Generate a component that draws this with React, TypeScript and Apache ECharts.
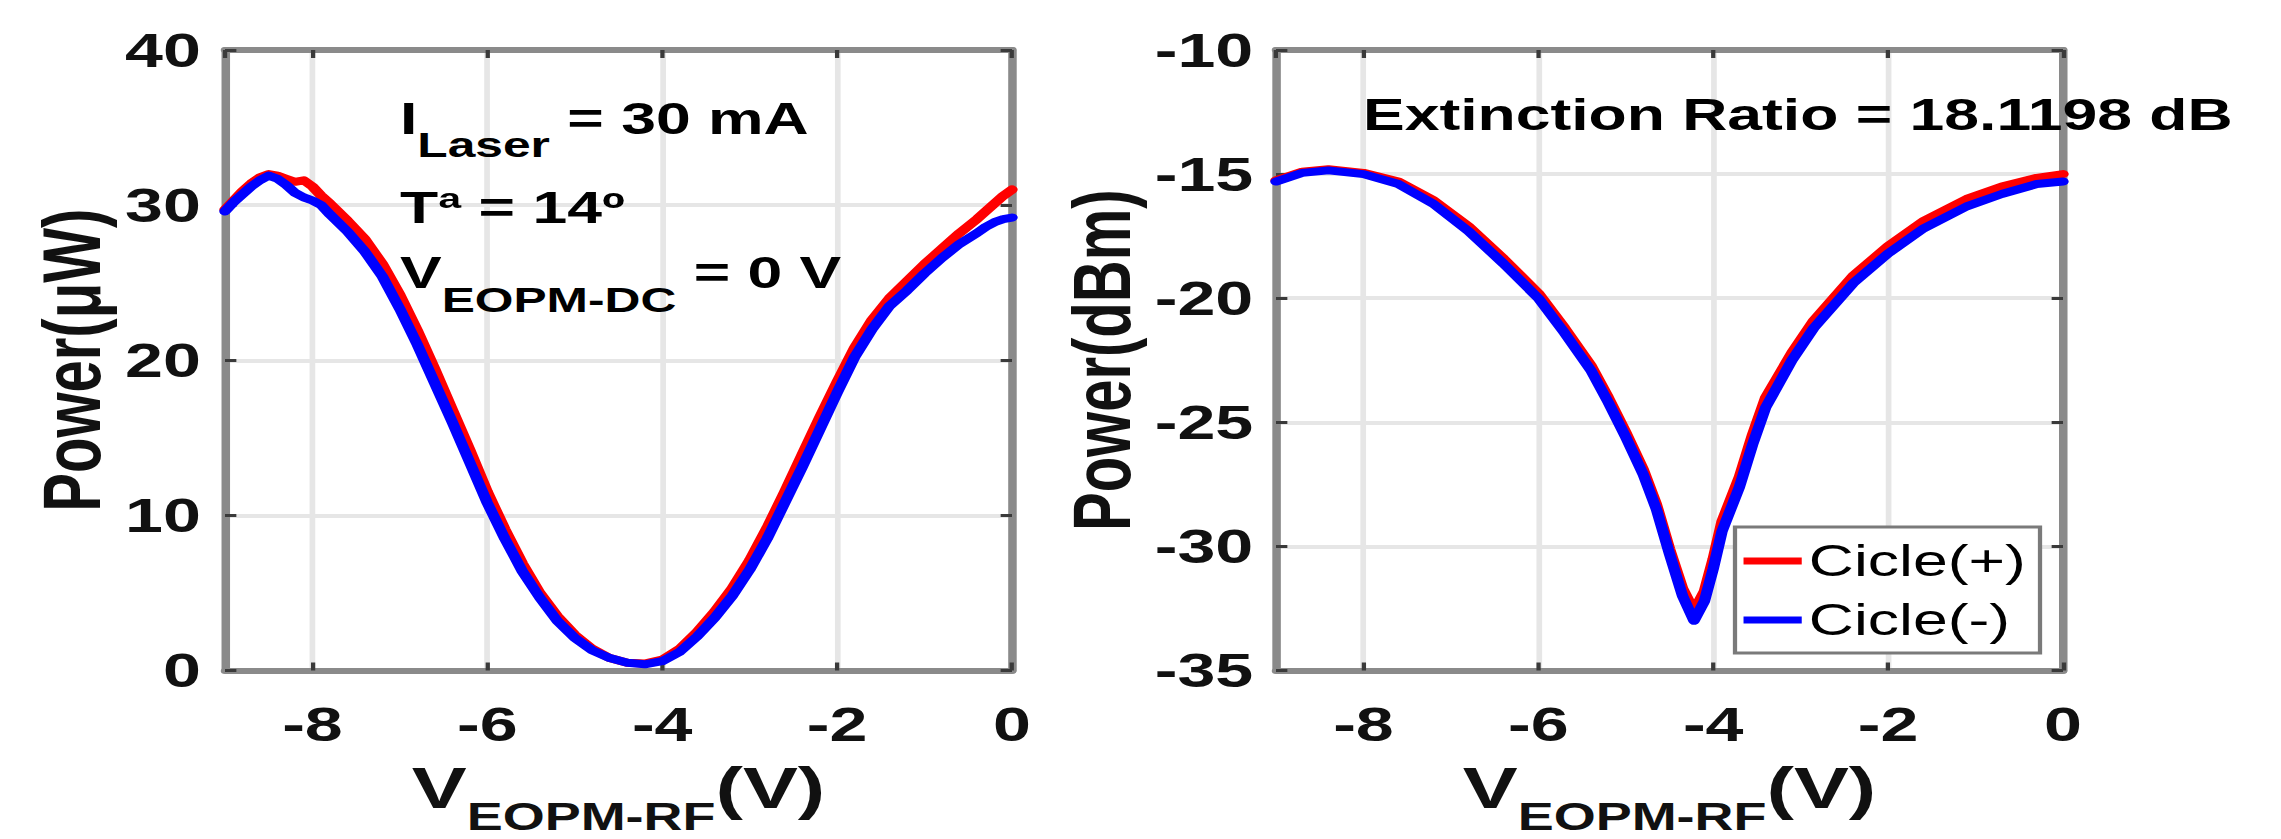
import React, { useEffect, useRef } from "react";
import * as echarts from "echarts";

// ---------- data ----------
const voltsUW = [
  -9, -8.9, -8.8, -8.7, -8.6, -8.5, -8.4, -8.3, -8.2, -8.1, -8.0, -7.9, -7.8, -7.6, -7.4, -7.2,
  -7.0, -6.8, -6.6, -6.4, -6.2, -6.0, -5.8, -5.6, -5.4, -5.2, -5.0, -4.8, -4.6, -4.4, -4.2, -4.0,
  -3.8, -3.6, -3.4, -3.2, -3.0, -2.8, -2.6, -2.4, -2.2, -2.0, -1.8, -1.6, -1.4, -1.2, -1.0, -0.8,
  -0.6, -0.4, -0.3, -0.2, -0.1, 0,
];
const ciclePlusUW = [
  29.7, 30.3, 30.9, 31.4, 31.8, 32.0, 31.9, 31.7, 31.5, 31.6, 31.2, 30.6, 30.1, 29.0, 27.8, 26.2,
  24.2, 21.9, 19.4, 16.8, 14.2, 11.5, 9.1, 6.9, 5.0, 3.5, 2.3, 1.4, 0.8, 0.5, 0.45, 0.7,
  1.4, 2.5, 3.8, 5.3, 7.1, 9.2, 11.5, 13.9, 16.3, 18.6, 20.8, 22.6, 24.0, 25.1, 26.2, 27.2,
  28.2, 29.1, 29.6, 30.1, 30.6, 31.0,
];
const cicleMinusUW = [
  29.6, 30.2, 30.7, 31.2, 31.6, 31.9, 31.7, 31.3, 30.8, 30.5, 30.3, 30.0, 29.4, 28.3, 27.0, 25.4,
  23.3, 21.0, 18.5, 16.0, 13.4, 10.8, 8.5, 6.4, 4.7, 3.2, 2.1, 1.3, 0.8, 0.5, 0.4, 0.6,
  1.2, 2.2, 3.4, 4.8, 6.5, 8.5, 10.8, 13.1, 15.5, 17.9, 20.2, 22.0, 23.5, 24.5, 25.6, 26.6,
  27.5, 28.2, 28.6, 28.9, 29.1, 29.2,
];

const voltsDBM = [
  -9, -8.7, -8.4, -8, -7.6, -7.2, -6.8, -6.4, -6.0, -5.7, -5.4, -5.2, -5.0, -4.8, -4.65, -4.5,
  -4.35, -4.22, -4.1, -4.0, -3.9, -3.7, -3.55, -3.4, -3.1, -2.85, -2.4, -2.0, -1.6, -1.1, -0.7,
  -0.3, 0,
];
const ciclePlusDBM = [
  -15.25, -14.9, -14.8, -14.95, -15.3, -16.05, -17.1, -18.4, -19.8, -21.2, -22.7, -24.0, -25.4,
  -26.9, -28.3, -30.1, -31.7, -32.6, -31.8, -30.5, -29.0, -27.2, -25.5, -24.0, -22.2, -20.9,
  -19.1, -17.9, -16.9, -16.0, -15.5, -15.15, -15.0,
];
const cicleMinusDBM = [
  -15.3, -14.95, -14.85, -15.0, -15.4, -16.2, -17.3, -18.6, -20.0, -21.4, -22.9, -24.2, -25.6,
  -27.1, -28.5, -30.3, -32.0, -33.0, -32.2, -30.9, -29.4, -27.6, -25.9, -24.4, -22.5, -21.2,
  -19.4, -18.2, -17.2, -16.3, -15.8, -15.4, -15.3,
];

const seriesNames = ["Cicle(+)", "Cicle(-)"];
const annotationLeft = ["I", "Laser", " = 30 mA", "Tª = 14º", "V", "EOPM-DC", " = 0 V"];
const annotationRight = "Extinction Ratio = 18.1198 dB";
const yNameLeft = "Power(μW)";
const yNameRight = "Power(dBm)";

// ---------- layout (the reference image is horizontally stretched) ----------
const FULL_W = 2281;
const FULL_H = 839;
const SX = 1.42;
const CW = FULL_W / SX;
const FF = "'Liberation Sans', Arial, Helvetica, sans-serif";
const TXT = "#111";

const zip = (xs: number[], ys: number[]) => xs.map((x, i) => [x, ys[i]]);

const gridTop = 50;
const gridH = 620.5;
const gridW = (1012 - 225) / SX;
const leftG = 225 / SX;
const rightG = 1276 / SX;

const xName = "{v|V}{s|EOPM-RF}{v|(V)}";
const xRich = {
  v: { fontSize: 58, fontWeight: "bold", fontFamily: FF, color: TXT },
  s: { fontSize: 38, fontWeight: "bold", fontFamily: FF, color: TXT, padding: [56, 0, 0, 0] },
};

function xAxis(gridIndex: number, main: boolean) {
  return {
    type: "value",
    gridIndex,
    position: main ? "bottom" : "top",
    min: -9,
    max: 0,
    splitNumber: 5,
    minInterval: 2,
    maxInterval: 2,
    name: main ? xName : "",
    nameLocation: "middle",
    nameGap: 71,
    nameTextStyle: { rich: xRich, fontFamily: FF, fontSize: 58, fontWeight: "bold", color: TXT },
    axisLine: { show: true, onZero: false, lineStyle: { color: "#8a8a8a", width: 6 } },
    axisTick: { show: true, inside: true, length: 8, lineStyle: { color: "#3a3a3a", width: 3 } },
    axisLabel: {
      show: main,
      showMinLabel: false,
      showMaxLabel: true,
      margin: 30,
      fontSize: 48,
      fontWeight: "bold",
      fontFamily: FF,
      color: TXT,
    },
    splitLine: { show: main, lineStyle: { color: "#e6e6e6", width: 4 } },
  };
}

function yAxis(gridIndex: number, main: boolean, min: number, max: number, interval: number, name: string, nameGap: number, margin: number) {
  return {
    type: "value",
    gridIndex,
    position: main ? "left" : "right",
    min,
    max,
    interval,
    name: main ? name : "",
    nameLocation: "middle",
    nameGap,
    nameTextStyle: { fontFamily: FF, fontSize: 58, fontWeight: "bold", color: TXT },
    axisLine: { show: true, onZero: false, lineStyle: { color: "#8a8a8a", width: 6 } },
    axisTick: { show: true, inside: true, length: 8, lineStyle: { color: "#3a3a3a", width: 3 } },
    axisLabel: {
      show: main,
      margin,
      fontSize: 48,
      fontWeight: "bold",
      fontFamily: FF,
      color: TXT,
    },
    splitLine: { show: main, lineStyle: { color: "#e6e6e6", width: 4 } },
  };
}

function lineSeries(name: string, color: string, xi: number, yi: number, data: number[][], z: number) {
  return {
    type: "line",
    name,
    xAxisIndex: xi,
    yAxisIndex: yi,
    data,
    showSymbol: false,
    symbol: "none",
    smooth: false,
    z,
    lineStyle: { color, width: 8, join: "round", cap: "round" },
    itemStyle: { color },
  };
}

const subRich = (pad: number) => ({
  m: { fontSize: 44, fontWeight: "bold", fontFamily: FF, fill: "#000", color: "#000" },
  s: { fontSize: 35, fontWeight: "bold", fontFamily: FF, fill: "#000", color: "#000", padding: [pad, 0, 0, 0] },
});

export default function App() {
  const ref = useRef<HTMLDivElement>(null);

  useEffect(() => {
    if (!ref.current) return;
    const chart = echarts.init(ref.current, undefined, { renderer: "svg" });
    chart.setOption({
      animation: false,
      backgroundColor: "#ffffff",
      grid: [
        { left: leftG, top: gridTop, width: gridW, height: gridH, outerBoundsMode: "none", containLabel: false },
        { left: rightG, top: gridTop, width: gridW, height: gridH, outerBoundsMode: "none", containLabel: false },
      ],
      xAxis: [xAxis(0, true), xAxis(0, false), xAxis(1, true), xAxis(1, false)],
      yAxis: [
        yAxis(0, true, 0, 40, 10, yNameLeft, 79, 17),
        yAxis(0, false, 0, 40, 10, "", 0, 0),
        yAxis(1, true, -35, -10, 5, yNameRight, 94, 16),
        yAxis(1, false, -35, -10, 5, "", 0, 0),
      ],
      legend: {
        data: seriesNames,
        orient: "vertical",
        left: 1735 / SX,
        top: 527,
        padding: [12, 10, 11, 6],
        itemGap: 15,
        itemWidth: 41,
        itemHeight: 7,
        icon: "rect",
        backgroundColor: "#ffffff",
        borderColor: "#7a7a7a",
        borderWidth: 3,
        borderRadius: 0,
        textStyle: { fontSize: 44, fontFamily: FF, color: "#000", fontWeight: "normal" },
      },
      series: [
        lineSeries(seriesNames[0], "#ff0000", 0, 0, zip(voltsUW, ciclePlusUW), 2),
        lineSeries(seriesNames[1], "#0000ff", 0, 0, zip(voltsUW, cicleMinusUW), 3),
        lineSeries(seriesNames[0], "#ff0000", 2, 2, zip(voltsDBM, ciclePlusDBM), 2),
        lineSeries(seriesNames[1], "#0000ff", 2, 2, zip(voltsDBM, cicleMinusDBM), 3),
      ],
      graphic: [
        {
          type: "text",
          x: 400 / SX,
          y: 119,
          z: 10,
          style: {
            text: `{m|${annotationLeft[0]}}{s|${annotationLeft[1]}}{m|${annotationLeft[2]}}`,
            rich: subRich(51),
            align: "left",
            verticalAlign: "middle",
            fill: "#000",
          },
        },
        {
          type: "text",
          x: 400 / SX,
          y: 207.5,
          z: 10,
          style: {
            text: annotationLeft[3],
            fontSize: 44,
            fontWeight: "bold",
            fontFamily: FF,
            fill: "#000",
            align: "left",
            verticalAlign: "middle",
          },
        },
        {
          type: "text",
          x: 400 / SX,
          y: 273,
          z: 10,
          style: {
            text: `{m|${annotationLeft[4]}}{s|${annotationLeft[5]}}{m|${annotationLeft[6]}}`,
            rich: subRich(53),
            align: "left",
            verticalAlign: "middle",
            fill: "#000",
          },
        },
        {
          type: "text",
          x: 1363 / SX,
          y: 114.5,
          z: 10,
          style: {
            text: annotationRight,
            fontSize: 44,
            fontWeight: "bold",
            fontFamily: FF,
            fill: "#000",
            align: "left",
            verticalAlign: "middle",
          },
        },
      ],
    });
    return () => chart.dispose();
  }, []);

  return (
    <div
      style={{
        position: "absolute",
        left: 0,
        top: 0,
        width: FULL_W,
        height: FULL_H,
        overflow: "hidden",
        background: "#fff",
      }}
    >
      <div
        ref={ref}
        style={{
          width: CW,
          height: FULL_H,
          transform: `scaleX(${SX})`,
          transformOrigin: "0 0",
        }}
      />
    </div>
  );
}
